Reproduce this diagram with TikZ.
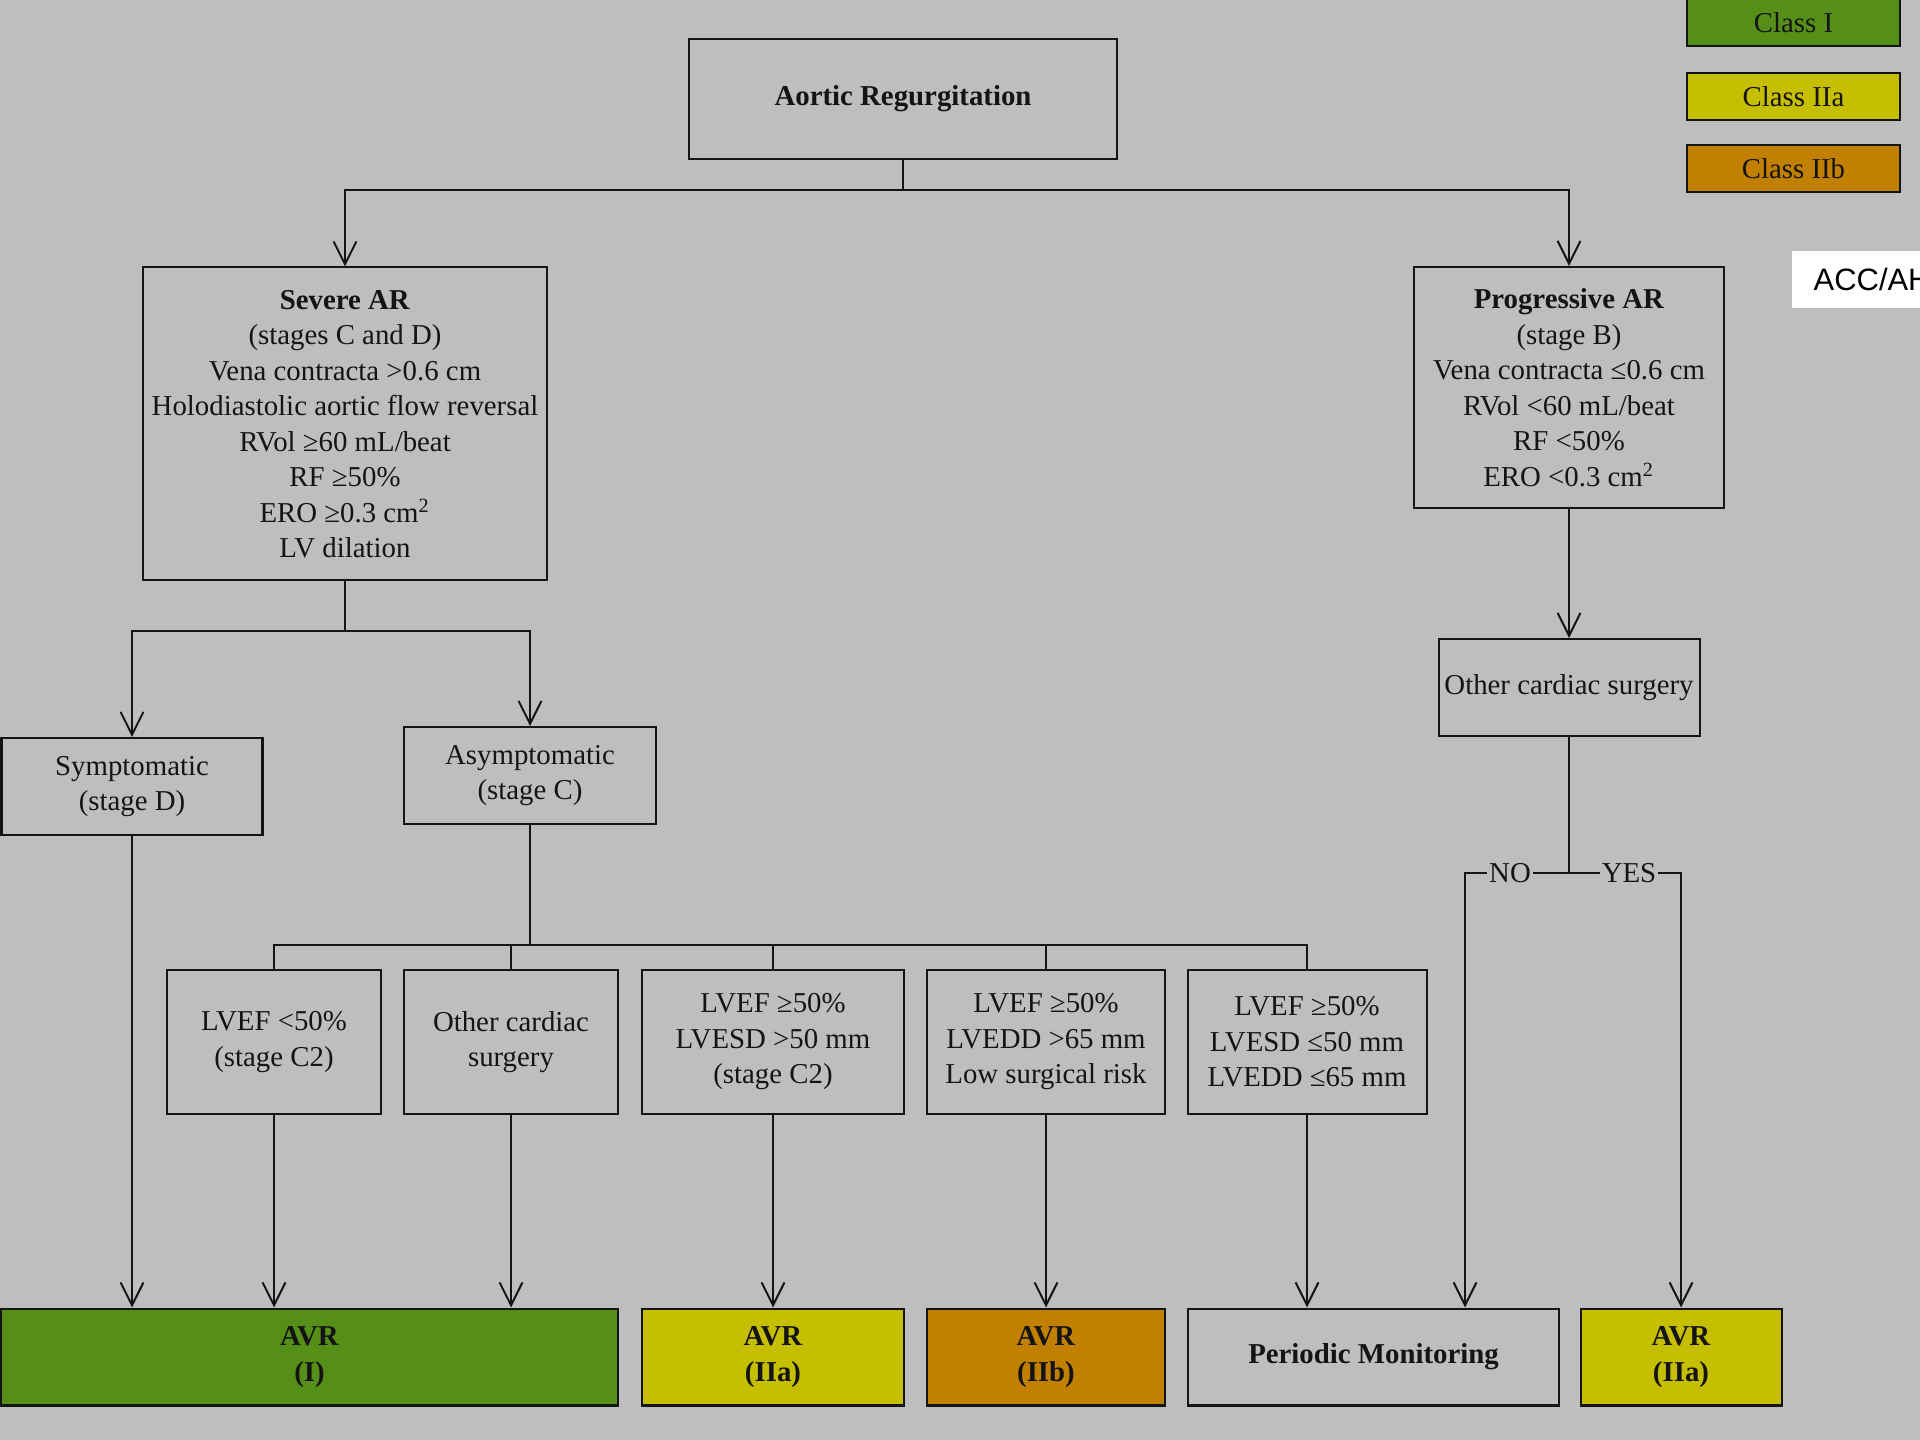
\documentclass[tikz,border=0pt]{standalone}
\usepackage{fontspec}
\setmainfont{Liberation Serif}
\newfontfamily\accfont{Liberation Sans}
\usetikzlibrary{arrows.meta}
\definecolor{bg}{RGB}{190,190,190}
\definecolor{ink}{RGB}{20,20,20}
\definecolor{cI}{RGB}{86,143,24}
\definecolor{cIIa}{RGB}{198,190,0}
\definecolor{cIIb}{RGB}{194,128,0}
\begin{document}
\begin{tikzpicture}[x=0.1mm,y=-0.1mm,
  every node/.style={font=\fontsize{8.2pt}{10.1pt}\selectfont, text=ink},
  box/.style={draw=ink, line width=0.57pt, align=center, inner sep=1pt},
  conn/.style={draw=ink, line width=0.57pt},
  arr/.style={conn, -{Straight Barb[length=6.5pt,width=6.5pt]}},
  lab/.style={fill=bg, inner sep=0.5pt}]
\fill[bg] (0,0) rectangle (1920,1440);
\useasboundingbox (0,0) rectangle (1920,1440);

% top
\node[box, minimum width=42.8mm, minimum height=12mm] (title) at (903,99) {\textbf{Aortic Regurgitation}};
\node[box, minimum width=40.4mm, minimum height=31.3mm] (severe) at (345,424)
  {\textbf{Severe AR}\\(stages C and D)\\Vena contracta >0.6 cm\\Holodiastolic aortic flow reversal\\RVol ≥60 mL/beat\\RF ≥50\%\\ERO ≥0.3 cm\textsuperscript{2}\\LV dilation};
\node[box, minimum width=31mm, minimum height=24.1mm] (prog) at (1569,387.5)
  {\textbf{Progressive AR}\\(stage B)\\Vena contracta ≤0.6 cm\\RVol <60 mL/beat\\RF <50\%\\ERO <0.3 cm\textsuperscript{2}};

% middle
\node[box, minimum width=26.1mm, minimum height=9.7mm] (symp) at (132,786.5) {Symptomatic\\(stage D)};
\node[box, minimum width=25.2mm, minimum height=9.7mm] (asym) at (530,775.5) {Asymptomatic\\(stage C)};
\node[box, minimum width=26.1mm, minimum height=9.7mm] (othR) at (1569,687.5) {Other cardiac surgery};

% criteria row
\node[box, minimum width=21.4mm, minimum height=14.4mm] (b1) at (274,1042) {LVEF <50\%\\(stage C2)};
\node[box, minimum width=21.4mm, minimum height=14.4mm] (b2) at (511,1042) {Other cardiac\\surgery};
\node[box, minimum width=26.2mm, minimum height=14.4mm] (b3) at (773,1042) {LVEF ≥50\%\\LVESD >50 mm\\(stage C2)};
\node[box, minimum width=23.8mm, minimum height=14.4mm] (b4) at (1046,1042) {LVEF ≥50\%\\LVEDD >65 mm\\Low surgical risk};
\node[box, minimum width=23.9mm, minimum height=14.4mm] (b5) at (1307,1042) {LVEF ≥50\%\\LVESD ≤50 mm\\LVEDD ≤65 mm};

% outcomes
\node[box, fill=cI, minimum width=61.7mm, minimum height=9.7mm] (avr1) at (309.5,1357) {\textbf{AVR}\\\textbf{(I)}};
\node[box, fill=cIIa, minimum width=26.2mm, minimum height=9.7mm] (avr2a) at (773,1357) {\textbf{AVR}\\\textbf{(IIa)}};
\node[box, fill=cIIb, minimum width=23.8mm, minimum height=9.7mm] (avr2b) at (1046,1357) {\textbf{AVR}\\\textbf{(IIb)}};
\node[box, minimum width=37.1mm, minimum height=9.7mm] (pm) at (1373.5,1357) {\textbf{Periodic Monitoring}};
\node[box, fill=cIIa, minimum width=20.1mm, minimum height=9.7mm] (avr2aR) at (1681,1357) {\textbf{AVR}\\\textbf{(IIa)}};

% legend
\node[box, fill=cI, minimum width=21.3mm, minimum height=4.7mm] (lgI) at (1793.5,23) {Class I};
\node[box, fill=cIIa, minimum width=21.3mm, minimum height=4.7mm] (lgIIa) at (1793.5,97) {Class IIa};
\node[box, fill=cIIb, minimum width=21.3mm, minimum height=4.7mm] (lgIIb) at (1793.5,169) {Class IIb};
\node[fill=white, anchor=west, minimum height=5.7mm, inner xsep=2.2mm, inner ysep=0pt, font=\accfont\fontsize{8.8pt}{10pt}\selectfont, text=black] (acc) at (1791,279.5) {ACC/AH};

% connectors
\coordinate (j1) at (903,190);
\draw[conn] (title.south) -- (j1);
\draw[arr] (j1) -| (severe.north);
\draw[arr] (j1) -| (prog.north);

\coordinate (j2) at (345,631);
\draw[conn] (severe.south) -- (j2);
\draw[arr] (j2) -| (symp.north);
\draw[arr] (j2) -| (asym.north);

\coordinate (j3) at (530,945);
\draw[conn] (asym.south) -- (j3);
\foreach \b in {b1,b2,b3,b4,b5} \draw[conn] (j3) -| (\b.north);

\draw[arr] (symp.south) -- (symp.south |- avr1.north);
\draw[arr] (b1.south) -- (b1.south |- avr1.north);
\draw[arr] (b2.south) -- (b2.south |- avr1.north);
\draw[arr] (b3.south) -- (avr2a.north);
\draw[arr] (b4.south) -- (avr2b.north);
\draw[arr] (b5.south) -- (b5.south |- pm.north);

\draw[arr] (prog.south) -- (othR.north);
\coordinate (j4) at (1569,873);
\coordinate (noC) at (1465,873);
\coordinate (yesC) at (1681,873);
\draw[conn] (othR.south) -- (j4);
\draw[arr] (j4) -- (noC) -- (noC |- pm.north);
\draw[arr] (j4) -- (yesC) -- (avr2aR.north);
\node[lab] (no) at (1510,873) {NO};
\node[lab] (yes) at (1629,873) {YES};
\end{tikzpicture}
\end{document}
